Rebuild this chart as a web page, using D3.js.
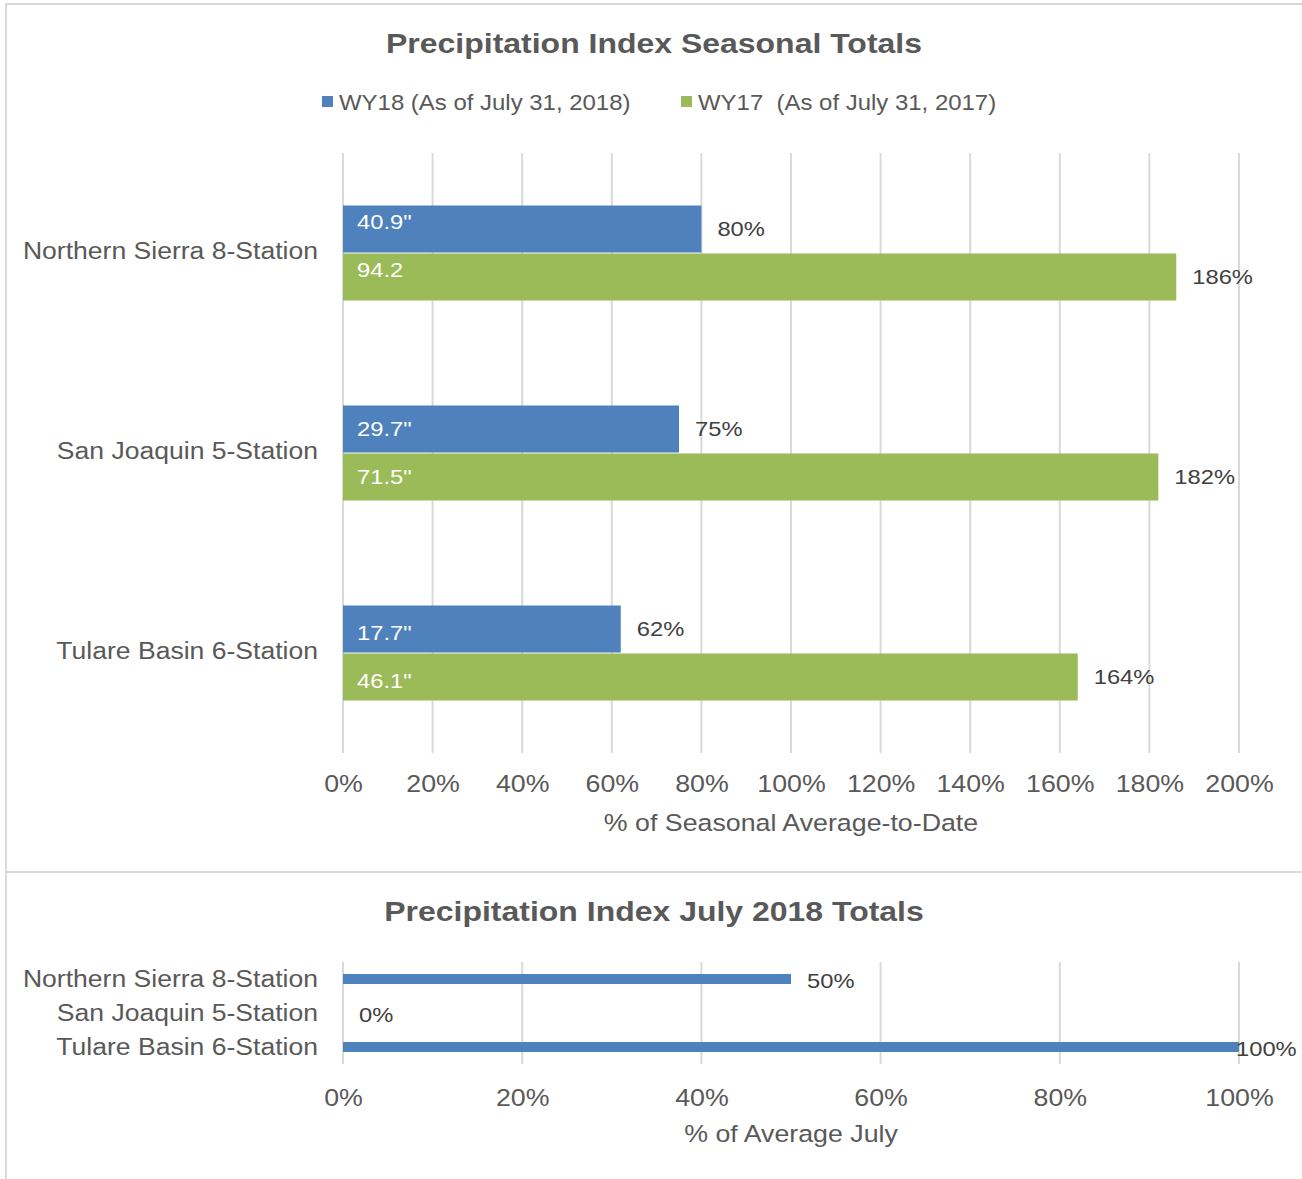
<!DOCTYPE html>
<html>
<head>
<meta charset="utf-8">
<script src="https://cdn.jsdelivr.net/npm/d3@7"></script>
<style>
  body { margin: 0; background: #fff; }
  svg { display: block; font-family: "Liberation Sans", Arial, sans-serif; }
</style>
</head>
<body>
<svg id="chart" width="1302" height="1179"></svg>
<script>
// Data
const stations = ['Northern Sierra 8-Station', 'San Joaquin 5-Station', 'Tulare Basin 6-Station'];
const seriesNames = ['WY18 (As of July 31, 2018)', 'WY17  (As of July 31, 2017)'];
const wy18Pct = [80, 75, 62];
const wy17Pct = [186, 182, 164];
const wy18Inches = ['40.9"', '29.7"', '17.7"'];
const wy17Inches = ['94.2', '71.5"', '46.1"'];
const julyPct = [50, 0, 100];
const seasonalTicks = [0, 20, 40, 60, 80, 100, 120, 140, 160, 180, 200];
const julyTicks = [0, 20, 40, 60, 80, 100];

const colors = { wy18: '#4F81BD', wy17: '#9BBB59' };
const gridColor = '#d9d9d9';
const textColor = '#595959';
const labelColor = '#404040';
const SX = 1.13; // text in the original is slightly wide
const inchNudge = [-6, 1, 5]; // inside labels were hand-placed in the original

const svg = d3.select('#chart');

// put text at (x,y) with a horizontal stretch
function addText(parent, x, y, txt) {
    return parent.append('text')
        .attr('transform', `translate(${x},${y}) scale(${SX},1)`)
        .style('white-space', 'pre')
        .text(txt);
}

// Outer frames
svg.append('rect')
    .attr('x', 6).attr('y', 4).attr('width', 1310).attr('height', 868)
    .attr('fill', 'none').attr('stroke', gridColor).attr('stroke-width', 2);
svg.append('rect')
    .attr('x', 6).attr('y', 872).attr('width', 1310).attr('height', 320)
    .attr('fill', 'none').attr('stroke', gridColor).attr('stroke-width', 2);

// ---------- Seasonal chart ----------
const x1 = d3.scaleLinear().domain([0, 200]).range([343, 1239]);
const y1 = d3.scaleBand().domain(stations).range([153, 753]);
const inner1 = d3.scaleBand().domain(['wy18', 'wy17']).range([0, 95]).paddingInner(0.02);

addText(svg, 654, 53, 'Precipitation Index Seasonal Totals')
    .attr('text-anchor', 'middle')
    .attr('font-size', 28.3).attr('font-weight', 'bold')
    .attr('fill', textColor);

// Legend
const legend = svg.append('g').attr('font-size', 21.2).attr('fill', textColor);
[[322, colors.wy18, seriesNames[0]], [681, colors.wy17, seriesNames[1]]].forEach(([lx, c, t]) => {
    legend.append('rect').attr('x', lx).attr('y', 96).attr('width', 11).attr('height', 11).attr('fill', c);
    addText(legend, lx + 17, 110, t);
});

// Gridlines
svg.append('g').selectAll('line')
    .data(seasonalTicks)
    .join('line')
    .attr('x1', d => x1(d)).attr('x2', d => x1(d))
    .attr('y1', 153).attr('y2', 753)
    .attr('stroke', gridColor).attr('stroke-width', 2);

// Bars
const groups = svg.append('g').selectAll('g')
    .data(stations.map((s, i) => ({ s, i })))
    .join('g')
    .attr('transform', d => `translate(0,${y1(d.s) + (y1.bandwidth() - 95) / 2})`);

groups.each(function(d) {
    const g = d3.select(this);
    const rows = [
        { key: 'wy18', v: wy18Pct[d.i], inch: wy18Inches[d.i] },
        { key: 'wy17', v: wy17Pct[d.i], inch: wy17Inches[d.i] }
    ];
    rows.forEach(r => {
        const by = inner1(r.key);
        const bh = inner1.bandwidth();
        g.append('rect')
            .attr('x', x1(0)).attr('y', by)
            .attr('width', x1(r.v) - x1(0)).attr('height', bh)
            .attr('fill', colors[r.key]);
        addText(g, x1(0) + 14, by + bh / 2 + inchNudge[d.i], r.inch)
            .attr('dominant-baseline', 'middle')
            .attr('font-size', 21).attr('fill', '#fff');
        addText(g, x1(r.v) + 16, by + bh / 2 + 1, r.v + '%')
            .attr('dominant-baseline', 'middle')
            .attr('font-size', 21).attr('fill', labelColor);
    });
});

// Category labels
stations.forEach(s => {
    addText(svg, 318, y1(s) + y1.bandwidth() / 2, s)
        .attr('text-anchor', 'end').attr('dominant-baseline', 'middle')
        .attr('font-size', 23.5).attr('fill', textColor);
});

// X axis
const xAxis1 = svg.append('g')
    .attr('transform', 'translate(0,765)')
    .call(d3.axisBottom(x1).tickValues(seasonalTicks).tickFormat(d => d + '%').tickSize(0).tickPadding(10));
xAxis1.select('.domain').remove();
xAxis1.selectAll('text').attr('font-size', 23.7).attr('fill', textColor)
    .attr('transform', `scale(${SX},1)`)
    .attr('font-family', '"Liberation Sans", Arial, sans-serif');

addText(svg, 791, 831, '% of Seasonal Average-to-Date')
    .attr('text-anchor', 'middle')
    .attr('font-size', 23.7).attr('fill', textColor);

// ---------- July chart ----------
const x2 = d3.scaleLinear().domain([0, 100]).range([343, 1239]);
const y2 = d3.scaleBand().domain(stations).range([962, 1064]);

addText(svg, 654, 921, 'Precipitation Index July 2018 Totals')
    .attr('text-anchor', 'middle')
    .attr('font-size', 28.3).attr('font-weight', 'bold')
    .attr('fill', textColor);

svg.append('g').selectAll('line')
    .data(julyTicks)
    .join('line')
    .attr('x1', d => x2(d)).attr('x2', d => x2(d))
    .attr('y1', 962).attr('y2', 1064)
    .attr('stroke', gridColor).attr('stroke-width', 2);

const barH = 10;
svg.append('g').selectAll('rect')
    .data(julyPct)
    .join('rect')
    .attr('x', x2(0))
    .attr('y', (d, i) => y2(stations[i]) + y2.bandwidth() / 2 - barH / 2)
    .attr('width', d => x2(d) - x2(0))
    .attr('height', barH)
    .attr('fill', colors.wy18);

const julyLabels = svg.append('g');
julyPct.forEach((d, i) => {
    addText(julyLabels, Math.min(x2(d) + 16, 1236), y2(stations[i]) + y2.bandwidth() / 2 + 3, d + '%')
        .attr('dominant-baseline', 'middle')
        .attr('font-size', 21).attr('fill', labelColor);
});

stations.forEach(s => {
    addText(svg, 318, y2(s) + y2.bandwidth() / 2 + 1.5, s)
        .attr('text-anchor', 'end').attr('dominant-baseline', 'middle')
        .attr('font-size', 23.5).attr('fill', textColor);
});

const xAxis2 = svg.append('g')
    .attr('transform', 'translate(0,1079)')
    .call(d3.axisBottom(x2).tickValues(julyTicks).tickFormat(d => d + '%').tickSize(0).tickPadding(10));
xAxis2.select('.domain').remove();
xAxis2.selectAll('text').attr('font-size', 23.7).attr('fill', textColor)
    .attr('transform', `scale(${SX},1)`)
    .attr('font-family', '"Liberation Sans", Arial, sans-serif');

addText(svg, 791, 1142, '% of Average July')
    .attr('text-anchor', 'middle')
    .attr('font-size', 23.7).attr('fill', textColor);
</script>
</body>
</html>
